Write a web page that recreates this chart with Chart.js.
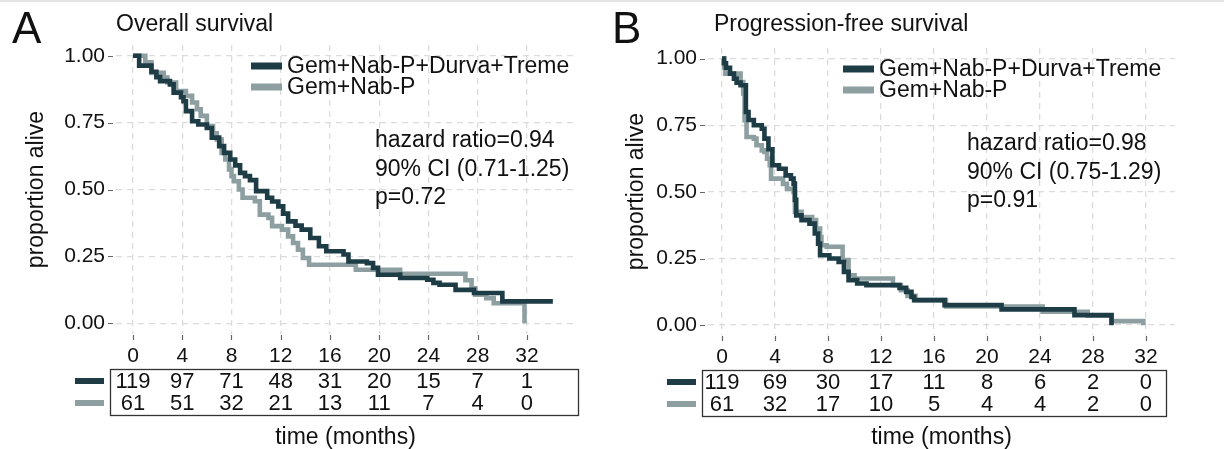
<!DOCTYPE html>
<html>
<head>
<meta charset="utf-8">
<script src="https://cdn.jsdelivr.net/npm/chart.js@4.4.0/dist/chart.umd.min.js"></script>
<style>
  html, body { margin: 0; padding: 0; background: #ffffff; }
  body { width: 1224px; height: 449px; position: relative; overflow: hidden; }
  #topline { position: absolute; left: 0; top: 0; width: 1224px; height: 2px; background: #e4e4e4; }
  .panel { position: absolute; top: 0; height: 449px; }
  #wrapA { left: 0; width: 600px; }
  #wrapB { left: 600px; width: 624px; }
  canvas { display: block; }
</style>
</head>
<body>
<div id="topline"></div>
<div class="panel" id="wrapA"><canvas id="chartA" width="600" height="449" style="width:600px;height:449px"></canvas></div>
<div class="panel" id="wrapB"><canvas id="chartB" width="624" height="449" style="width:624px;height:449px"></canvas></div>
<script>
// ---- axis ticks and labels ----
const timeTicks = [0, 4, 8, 12, 16, 20, 24, 28, 32];
const survivalTicks = [0, 0.25, 0.5, 0.75, 1];
const armLabels = ['Gem+Nab-P+Durva+Treme', 'Gem+Nab-P'];
const armColors = ['#1d3c46', '#8d9fa0'];

// ---- overall survival: Kaplan-Meier step points (months, proportion alive) ----
const osComboTime = [0, 0.5, 1.5, 1.9, 2.2, 3.0, 3.3, 3.9, 4.1, 4.3, 4.8, 5.3, 6.0, 6.4, 7.0, 7.4, 7.9, 8.3, 8.7, 9.1, 9.5, 10.0, 10.9, 11.3, 11.8, 12.2, 12.6, 13.2, 13.7, 14.4, 15.1, 15.7, 17.1, 17.5, 19.0, 19.5, 19.9, 21.7, 23.9, 24.4, 24.9, 26.2, 27.7, 30.0, 34.1];
const osComboSurv = [1, 0.963, 0.94, 0.92, 0.905, 0.893, 0.862, 0.845, 0.83, 0.793, 0.755, 0.743, 0.73, 0.694, 0.662, 0.637, 0.612, 0.59, 0.562, 0.55, 0.535, 0.494, 0.469, 0.455, 0.437, 0.41, 0.381, 0.365, 0.35, 0.319, 0.288, 0.269, 0.257, 0.231, 0.225, 0.207, 0.182, 0.169, 0.163, 0.151, 0.144, 0.125, 0.113, 0.082, 0.082];
const osCtrlTime = [0, 1.0, 1.5, 2.5, 2.8, 3.5, 4.3, 4.8, 5.2, 5.5, 6.0, 6.5, 6.8, 7.2, 7.5, 7.8, 8.0, 8.2, 8.6, 8.9, 9.9, 10.3, 11.0, 11.3, 12.1, 12.6, 13.0, 13.4, 13.8, 14.3, 18.1, 21.7, 27.0, 27.5, 27.8, 28.7, 29.3, 31.8];
const osCtrlSurv = [1, 0.975, 0.936, 0.918, 0.9, 0.868, 0.85, 0.825, 0.8, 0.775, 0.737, 0.71, 0.687, 0.637, 0.612, 0.575, 0.55, 0.531, 0.5, 0.469, 0.456, 0.406, 0.394, 0.363, 0.35, 0.325, 0.3, 0.275, 0.244, 0.219, 0.2, 0.185, 0.161, 0.131, 0.107, 0.094, 0.075, 0];

// ---- progression-free survival ----
const pfsComboTime = [0, 0.15, 0.3, 0.6, 0.9, 1.1, 1.4, 1.8, 2.0, 2.4, 3.0, 3.2, 3.5, 3.8, 4.3, 4.8, 5.2, 5.4, 5.5, 5.6, 6.0, 6.6, 7.0, 7.25, 7.4, 8.1, 8.8, 9.2, 9.55, 10.2, 10.9, 13.4, 13.9, 14.3, 14.5, 16.8, 21.1, 26.6, 29.4];
const pfsComboSurv = [1, 0.983, 0.966, 0.944, 0.925, 0.91, 0.9, 0.8, 0.77, 0.75, 0.737, 0.7, 0.66, 0.6, 0.587, 0.562, 0.55, 0.531, 0.47, 0.412, 0.394, 0.381, 0.344, 0.306, 0.262, 0.25, 0.237, 0.2, 0.169, 0.156, 0.15, 0.14, 0.125, 0.106, 0.094, 0.075, 0.059, 0.0375, 0];
const pfsCtrlTime = [0, 0.15, 0.25, 1.4, 1.6, 1.7, 1.85, 2.4, 2.6, 3.0, 3.2, 3.4, 3.6, 3.7, 4.6, 4.9, 5.4, 5.5, 6.0, 6.8, 7.1, 7.4, 7.5, 7.9, 9.1, 9.55, 10.0, 12.9, 13.5, 14.0, 14.6, 16.9, 24.2, 27.6, 29.4, 31.8];
const pfsCtrlSurv = [1, 0.967, 0.944, 0.912, 0.869, 0.769, 0.706, 0.7, 0.675, 0.656, 0.65, 0.625, 0.6, 0.55, 0.53, 0.512, 0.5, 0.425, 0.406, 0.394, 0.362, 0.331, 0.3, 0.294, 0.244, 0.187, 0.175, 0.15, 0.131, 0.11, 0.094, 0.07, 0.05, 0.035, 0.015, 0];

// ---- numbers at risk at each time tick ----
const osRiskCombo = [119, 97, 71, 48, 31, 20, 15, 7, 1];
const osRiskCtrl = [61, 51, 32, 21, 13, 11, 7, 4, 0];
const pfsRiskCombo = [119, 69, 30, 17, 11, 8, 6, 2, 0];
const pfsRiskCtrl = [61, 32, 17, 10, 5, 4, 4, 2, 0];

// ---- test statistics ----
const osStats = ['hazard ratio=0.94', '90% CI (0.71-1.25)', 'p=0.72'];
const pfsStats = ['hazard ratio=0.98', '90% CI (0.75-1.29)', 'p=0.91'];

const FONT = "'Liberation Sans', Arial, Helvetica, sans-serif";
Chart.defaults.font.family = FONT;
Chart.defaults.color = '#111';

// Tick marks, panel letter/title, legend, statistics and the at-risk table
const kmDecor = {
  id: 'kmDecor',
  afterDraw(chart, args, o) {
    const ctx = chart.ctx;
    const a = chart.chartArea;
    const xs = chart.scales.x, ys = chart.scales.y;
    ctx.save();

    // short tick marks outside the plot region
    ctx.strokeStyle = '#666';
    ctx.lineWidth = 1.2;
    ctx.beginPath();
    survivalTicks.forEach(v => {
      const y = Math.round(ys.getPixelForValue(v)) + 0.5;
      ctx.moveTo(a.left - 8, y); ctx.lineTo(a.left - 3, y);
    });
    timeTicks.forEach(v => {
      const x = Math.round(xs.getPixelForValue(v)) + 0.5;
      ctx.moveTo(x, a.bottom + 1); ctx.lineTo(x, a.bottom + 6);
    });
    ctx.stroke();

    // panel letter and title
    ctx.fillStyle = '#111';
    ctx.textAlign = 'left';
    ctx.textBaseline = 'middle';
    ctx.font = '44px ' + FONT;
    ctx.fillText(o.letter, 12, 31);
    ctx.font = '23px ' + FONT;
    ctx.fillText(o.title, a.left + o.titleDx, 25);

    // legend
    chart.data.datasets.forEach((ds, i) => {
      const y = a.top + 21 + i * 21;
      ctx.strokeStyle = ds.borderColor;
      ctx.lineWidth = 7;
      ctx.lineCap = 'butt';
      ctx.beginPath();
      ctx.moveTo(a.left + 135, y); ctx.lineTo(a.left + 166, y);
      ctx.stroke();
      ctx.fillStyle = '#111';
      ctx.fillText(ds.label, a.left + 171, y + 1);
    });

    // hazard ratio block
    o.stats.forEach((s, i) => {
      ctx.fillText(s, a.left + 259, a.top + 96 + i * 28.5);
    });

    // numbers at risk
    const boxL = a.left - 6, boxR = a.right + o.boxDr;
    const boxT = a.bottom + 35, boxB = a.bottom + 81;
    ctx.strokeStyle = '#333';
    ctx.lineWidth = 1.3;
    ctx.strokeRect(boxL + 0.5, boxT + 0.5, boxR - boxL, boxB - boxT);
    ctx.font = '22px ' + FONT;
    ctx.textAlign = 'center';
    o.risk.forEach((row, r) => {
      const y = a.bottom + 47 + r * 22;
      ctx.strokeStyle = chart.data.datasets[r].borderColor;
      ctx.lineWidth = 6;
      ctx.beginPath();
      ctx.moveTo(boxL - 35, y); ctx.lineTo(boxL - 6, y);
      ctx.stroke();
      ctx.fillStyle = '#111';
      row.forEach((n, k) => {
        ctx.fillText(String(n), xs.getPixelForValue(timeTicks[k]), y + 1);
      });
    });
    ctx.restore();
  }
};

function toPoints(t, s) { return t.map((v, i) => ({ x: v, y: s[i] })); }

function makePanel(id, p) {
  return new Chart(document.getElementById(id), {
    type: 'line',
    data: {
      datasets: [
        { label: armLabels[0], data: toPoints(p.comboT, p.comboS), borderColor: armColors[0] },
        { label: armLabels[1], data: toPoints(p.ctrlT, p.ctrlS), borderColor: armColors[1] }
      ].map(d => Object.assign(d, {
        stepped: 'before', borderWidth: 4.6, pointRadius: 0, fill: false,
        borderJoinStyle: 'miter', borderCapStyle: 'butt', tension: 0
      }))
    },
    options: {
      responsive: false,
      animation: false,
      events: [],
      layout: { padding: { top: p.top, right: p.right, left: 0, bottom: 0 } },
      plugins: {
        legend: { display: false },
        tooltip: { enabled: false },
        kmDecor: p.decor
      },
      scales: {
        x: {
          type: 'linear', min: p.xMin, max: p.xMax,
          afterBuildTicks: s => { s.ticks = timeTicks.map(v => ({ value: v })); },
          afterFit: s => { s.height = p.xHeight; },
          grid: { color: '#dcdcdc', lineWidth: 1.3, drawTicks: false },
          border: { display: false, dash: [6, 5] },
          ticks: { font: { size: 21 }, padding: 10, color: '#111', maxRotation: 0, autoSkip: false },
          title: { display: true, text: 'time (months)', font: { size: 23, lineHeight: 1 }, padding: { top: 0, bottom: 0 }, color: '#111' }
        },
        y: {
          type: 'linear', min: p.yMin, max: p.yMax,
          afterBuildTicks: s => { s.ticks = survivalTicks.map(v => ({ value: v })); },
          afterFit: s => { s.width = p.yWidth; },
          grid: { color: '#dcdcdc', lineWidth: 1.3, drawTicks: false },
          border: { display: false, dash: [6, 5] },
          ticks: { font: { size: 21 }, padding: 11, color: '#111', callback: v => v.toFixed(2) },
          title: { display: true, text: 'proportion alive', font: { size: 23, lineHeight: 1 }, padding: { top: 25, bottom: 0 }, color: '#111' }
        }
      }
    },
    plugins: [kmDecor]
  });
}

makePanel('chartA', {
  comboT: osComboTime, comboS: osComboSurv, ctrlT: osCtrlTime, ctrlS: osCtrlSurv,
  xMin: -1.38, xMax: 35.9, yMin: -0.04, yMax: 1.04,
  top: 45, right: 25, yWidth: 116, xHeight: 115,
  decor: { letter: 'A', title: 'Overall survival', titleDx: 0, stats: osStats, risk: [osRiskCombo, osRiskCtrl], boxDr: 3 }
});

makePanel('chartB', {
  comboT: pfsComboTime, comboS: pfsComboSurv, ctrlT: pfsCtrlTime, ctrlS: pfsCtrlSurv,
  xMin: -1.06, xMax: 34.19, yMin: -0.037, yMax: 1.04,
  top: 48, right: 49, yWidth: 108, xHeight: 114,
  decor: { letter: 'B', title: 'Progression-free survival', titleDx: 6, stats: pfsStats, risk: [pfsRiskCombo, pfsRiskCtrl], boxDr: -9 }
});
</script>
</body>
</html>
